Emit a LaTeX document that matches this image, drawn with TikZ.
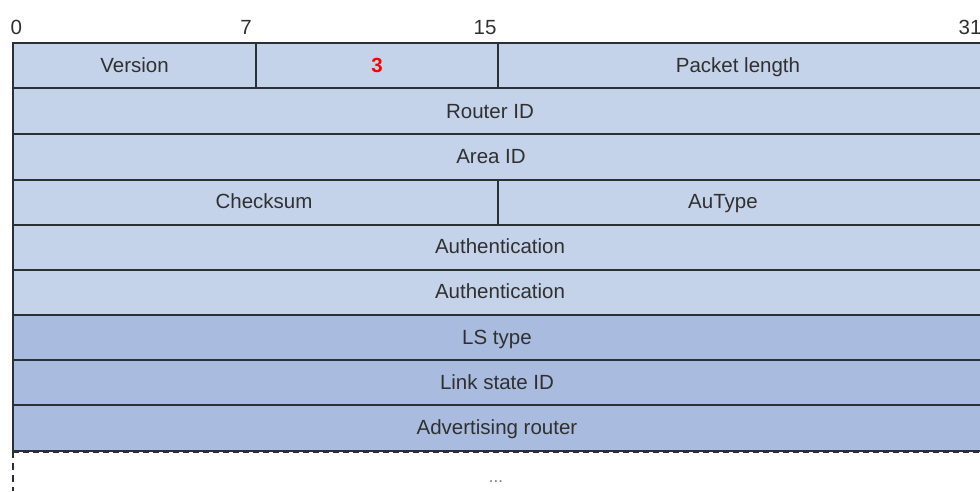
\documentclass[tikz,border=0pt]{standalone}
\usepackage{fontspec}
\setmainfont{Liberation Sans}
\begin{document}
\begin{tikzpicture}[x=1pt,y=-1pt,
  light/.style={fill=fieldlight,draw=borderc,line width=1.4pt},
  dark/.style={fill=fielddark,draw=borderc,line width=1.4pt},
  lbl/.style={font=\fontsize{20.5}{24}\selectfont,text=textc,anchor=base},
  bitlbl/.style={font=\fontsize{20.5}{24}\selectfont,text=textc,anchor=base}]
\definecolor{fieldlight}{HTML}{C5D3EA}
\definecolor{fielddark}{HTML}{A9BCDF}
\definecolor{borderc}{HTML}{2B2F36}
\definecolor{textc}{HTML}{303030}
\useasboundingbox (0,0) rectangle (980,491);
\begin{scope}
\clip (0,0) rectangle (980,491);
% bit labels
\node[bitlbl,anchor=base west] (b0) at (7,34) {0};
\node[bitlbl] (b7) at (246,34) {7};
\node[bitlbl] (b15) at (485,34) {15};
\node[bitlbl] (b31) at (970,34) {31};
% row 1
\path[light] (13,43) rectangle (256,88);
\path[light] (256,43) rectangle (498,88);
\path[light] (498,43) rectangle (984,88);
\node[lbl] (ver) at (134.5,72) {Version};
\node[lbl,text=red,font=\fontsize{20.5}{24}\selectfont\bfseries] (typ) at (377,72) {3};
\node[lbl] (plen) at (738,72) {Packet length};
% row 2
\path[light] (13,88) rectangle (984,134);
\node[lbl] (rid) at (490,118) {Router ID};
% row 3
\path[light] (13,134) rectangle (984,180);
\node[lbl] (aid) at (491,163) {Area ID};
% row 4
\path[light] (13,180) rectangle (498,225);
\path[light] (498,180) rectangle (984,225);
\node[lbl] (cks) at (264,208) {Checksum};
\node[lbl] (aut) at (723,208) {AuType};
% row 5,6
\path[light] (13,225) rectangle (984,270);
\node[lbl] (auth1) at (500,253) {Authentication};
\path[light] (13,270) rectangle (984,315);
\node[lbl] (auth2) at (500,298) {Authentication};
% dark rows
\path[dark] (13,315) rectangle (984,360);
\node[lbl] (lst) at (497,344) {LS type};
\path[dark] (13,360) rectangle (984,405);
\node[lbl] (lsid) at (497,389) {Link state ID};
\path[dark] (13,405) rectangle (984,451);
\node[lbl] (adv) at (497,434) {Advertising router};
% dashed continuation
\draw[borderc,line width=1.4pt,dash pattern=on 6pt off 4pt] (13,452.5) -- (984,452.5);
\draw[borderc,line width=1.4pt,dash pattern=on 7pt off 5pt] (13,451) -- (13,491);
\node[font=\fontsize{17}{18}\selectfont,text=gray,anchor=base] (dots) at (496,482) {...};
\end{scope}
\end{tikzpicture}
\end{document}
